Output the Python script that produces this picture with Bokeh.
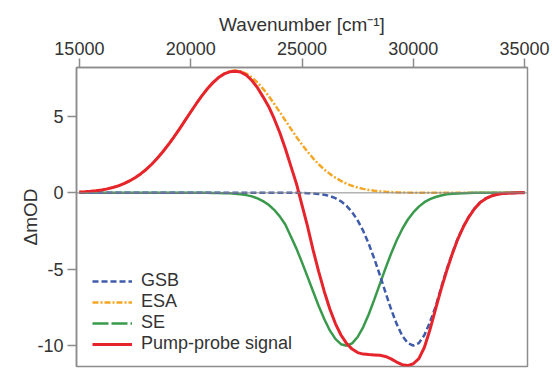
from bokeh.plotting import figure
from bokeh.models import Range1d, FixedTicker, Span, Legend, LegendItem
from bokeh.embed import file_html
from bokeh.resources import INLINE

wavenumber = [
    15000, 15250, 15500, 15750, 16000, 16250, 16500, 16750, 17000, 17250,
    17500, 17750, 18000, 18250, 18500, 18750, 19000, 19250, 19500, 19750,
    20000, 20250, 20500, 20750, 21000, 21250, 21500, 21750, 22000, 22250,
    22500, 22750, 23000, 23250, 23500, 23750, 24000, 24250, 24500, 24750,
    25000, 25250, 25500, 25750, 26000, 26250, 26500, 26750, 27000, 27250,
    27500, 27750, 28000, 28250, 28500, 28750, 29000, 29250, 29500, 29750,
    30000, 30250, 30500, 30750, 31000, 31250, 31500, 31750, 32000, 32250,
    32500, 32750, 33000, 33250, 33500, 33750, 34000, 34250, 34500, 34750,
    35000,
]

gsb = [
    0, 0, 0, 0, 0, 0, 0, 0, 0, 0,
    0, 0, 0, 0, 0, 0, 0, 0, 0, 0,
    0, 0, 0, 0, 0, 0, 0, 0, 0, 0,
    0, 0, 0, 0, 0, 0, 0, 0, 0, 0,
    -0.01, -0.02, -0.04, -0.07, -0.12, -0.21, -0.35, -0.55, -0.85, -1.26,
    -1.80, -2.49, -3.34, -4.32, -5.39, -6.51, -7.60, -8.57, -9.34, -9.83,
    -10.0, -9.83, -9.30, -8.45, -7.45, -6.20, -5.00, -3.95, -2.98, -2.20,
    -1.55, -1.02, -0.62, -0.36, -0.20, -0.10, -0.05, -0.02, -0.01, 0,
    0,
]

esa = [
    0.05, 0.07, 0.10, 0.14, 0.19, 0.26, 0.35, 0.46, 0.60, 0.78,
    0.99, 1.24, 1.53, 1.87, 2.26, 2.69, 3.16, 3.66, 4.19, 4.74,
    5.29, 5.83, 6.34, 6.81, 7.22, 7.55, 7.80, 7.95, 8.00, 7.95,
    7.80, 7.55, 7.22, 6.81, 6.34, 5.83, 5.29, 4.74, 4.19, 3.66,
    3.16, 2.69, 2.26, 1.87, 1.53, 1.24, 0.99, 0.78, 0.60, 0.46,
    0.35, 0.26, 0.19, 0.14, 0.10, 0.07, 0.05, 0.035, 0.024, 0.016,
    0.011, 0.008, 0.005, 0, 0, 0, 0, 0, 0, 0,
    0, 0, 0, 0, 0, 0, 0, 0, 0, 0,
    0,
]

se = [
    0, 0, 0, 0, 0, 0, 0, 0, 0, 0,
    0, 0, 0, 0, 0, 0, 0, 0, 0, 0,
    0, 0, 0, 0, -0.01, -0.01, -0.02, -0.03, -0.06, -0.09,
    -0.15, -0.23, -0.36, -0.54, -0.78, -1.11, -1.54, -2.07, -2.85, -3.65,
    -4.55, -5.50, -6.45, -7.40, -8.25, -9.00, -9.55, -9.90, -10.0, -9.85,
    -9.43, -8.78, -7.94, -6.97, -5.95, -4.94, -3.98, -3.12, -2.38, -1.76,
    -1.28, -0.90, -0.61, -0.41, -0.27, -0.17, -0.10, -0.06, -0.04, -0.02,
    -0.01, 0, 0, 0, 0, 0, 0, 0, 0, 0,
    0,
]

pump_probe = [
    0.05, 0.07, 0.10, 0.14, 0.19, 0.26, 0.35, 0.46, 0.60, 0.78,
    0.99, 1.24, 1.53, 1.87, 2.26, 2.69, 3.16, 3.66, 4.19, 4.74,
    5.29, 5.83, 6.34, 6.81, 7.21, 7.54, 7.78, 7.92, 7.96, 7.90,
    7.70, 7.35, 6.88, 6.28, 5.65, 4.85, 3.95, 2.90, 1.75, 0.60,
    -0.80, -2.20, -3.75, -5.15, -6.45, -7.60, -8.55, -9.30, -9.85, -10.22,
    -10.45, -10.55, -10.58, -10.60, -10.63, -10.70, -10.86, -11.07, -11.24, -11.30,
    -11.18, -10.85, -10.10, -8.95, -7.60, -6.30, -5.10, -4.00, -3.02, -2.22,
    -1.57, -1.04, -0.64, -0.38, -0.21, -0.11, -0.05, -0.02, -0.01, 0,
    0,
]

x_ticks = [15000, 20000, 25000, 30000, 35000]
y_ticks = [-10, -5, 0, 5]
y_tick_labels = {-10: "-10", -5: "-5", 0: "0", 5: "5"}

FONT = "Liberation Sans"
AXIS_GREY = "#8c8c8c"
TEXT = "#333333"
BLUE = "#3f5bab"
ORANGE = "#f5a623"
GREEN = "#3a9a4c"
RED = "#e6242b"

p = figure(
    width=558, height=375,
    output_backend="svg", toolbar_location=None,
    x_range=Range1d(14870, 35130), y_range=Range1d(-11.36, 8.2),
    x_axis_location="above",
    min_border_left=76, min_border_top=67, min_border_right=31, min_border_bottom=9,
)
p.background_fill_color = "white"
p.border_fill_color = "white"
p.outline_line_color = AXIS_GREY
p.outline_line_width = 1.5
p.xgrid.visible = False
p.ygrid.visible = False

for ax in (p.xaxis[0], p.yaxis[0]):
    ax.axis_line_color = AXIS_GREY
    ax.axis_line_width = 1.5
    ax.major_tick_line_color = AXIS_GREY
    ax.major_tick_line_width = 1.5
    ax.major_tick_in = 0
    ax.major_tick_out = 9
    ax.minor_tick_line_color = None
    ax.major_label_text_font = FONT
    ax.major_label_text_font_size = "18px"
    ax.major_label_text_color = TEXT
    ax.axis_label_text_font = FONT
    ax.axis_label_text_font_size = "19px"
    ax.axis_label_text_font_style = "normal"
    ax.axis_label_text_color = TEXT

p.xaxis[0].ticker = FixedTicker(ticks=x_ticks)
p.yaxis[0].ticker = FixedTicker(ticks=y_ticks)
p.yaxis[0].major_label_overrides = y_tick_labels
p.xaxis[0].axis_label = "Wavenumber [cm\u207b\u00b9]"
p.yaxis[0].axis_label = "\u0394mOD"
p.xaxis[0].major_label_standoff = 4
p.xaxis[0].axis_label_standoff = 4
p.yaxis[0].major_label_standoff = 4
p.yaxis[0].axis_label_standoff = -7

p.add_layout(Span(location=0, dimension="width", line_color=AXIS_GREY, line_width=1))

r_esa = p.line(wavenumber, esa, line_color=ORANGE, line_width=2.5, line_dash="6 2 2 2")
r_se = p.line(wavenumber, se, line_color=GREEN, line_width=2.5)
r_gsb = p.line(wavenumber, gsb, line_color=BLUE, line_width=2.5, line_dash="6 3")
r_pp = p.line(wavenumber, pump_probe, line_color=RED, line_width=3)

# key-only proxy for the SE entry (dashed in the key, solid on the plot); no visible data
se_key = p.line(x=[float("nan")], y=[float("nan")], line_color=GREEN, line_width=2.5, line_dash="16 3")

legend = Legend(
    items=[
        LegendItem(label="GSB", renderers=[r_gsb]),
        LegendItem(label="ESA", renderers=[r_esa]),
        LegendItem(label="SE", renderers=[se_key]),
        LegendItem(label="Pump-probe signal", renderers=[r_pp]),
    ],
    location=(16, 12),
    border_line_color=None,
    background_fill_alpha=0,
    label_text_font=FONT,
    label_text_font_size="18px",
    label_text_color=TEXT,
    glyph_width=40, glyph_height=20, label_height=20,
    label_standoff=9, spacing=0, padding=0, margin=0,
)
p.add_layout(legend)

open("out.html", "w").write(file_html(p, INLINE))
